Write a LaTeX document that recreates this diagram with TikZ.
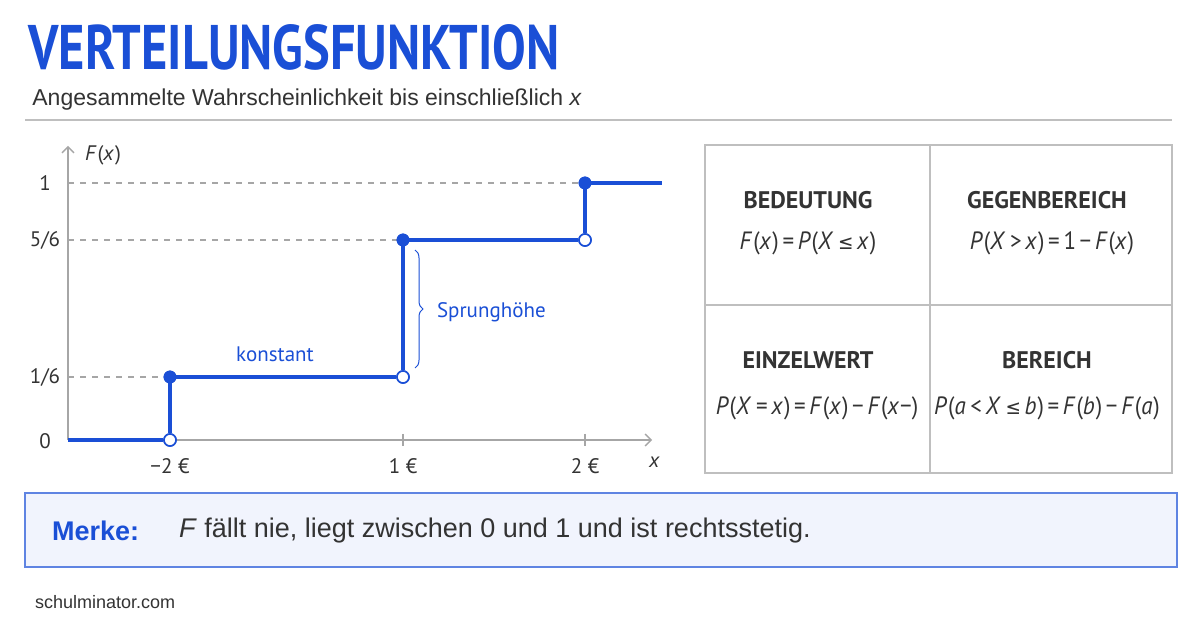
\documentclass[tikz,border=0pt]{standalone}
\usepackage{fontspec}
\setmainfont{Carlito}
\newfontfamily\titlefont{PT Sans}
\newfontfamily\subfont{Liberation Sans}
\newfontfamily\symfont{DejaVu Sans}
\usetikzlibrary{decorations.pathreplacing,arrows.meta}
\definecolor{blu}{HTML}{1A4FD6}
\definecolor{dk}{HTML}{333333}
\newcommand{\vi}[1]{\textit{#1}\kern0.5pt}
\newcommand{\eqs}{\kern2pt=\kern2pt}
\newcommand{\les}{\kern2pt{\symfont\scalebox{0.8}{≤}}\kern2pt}
\newcommand{\fmla}[1]{{\titlefont\fontsize{12.5}{14}\selectfont\scalebox{0.92}[1]{#1}}}
\begin{document}
\begin{tikzpicture}[x=0.5pt,y=-0.5pt,
  stp/.style={blu,line width=1.6pt},
  dsh/.style={gray!70,dashed,line width=0.6pt},
  fdot/.style={circle,fill=blu,draw=blu,inner sep=0pt,minimum size=6pt},
  odot/.style={circle,fill=white,draw=blu,line width=0.8pt,inner sep=0pt,minimum size=6pt},
  lab/.style={font=\titlefont\fontsize{10.5}{12}\selectfont,text=dk},
  cellh/.style={font=\titlefont\bfseries\fontsize{12}{14}\selectfont,text=dk},
  cellf/.style={text=dk}]
\useasboundingbox[fill=white] (0,0) rectangle (1200,630);
\node[anchor=west,inner sep=0,text=blu] (title) at (28,47) {\titlefont\bfseries\fontsize{31.5}{34}\selectfont\scalebox{0.8}[1]{VERTEILUNGSFUNKTION}};
\node[anchor=west,inner sep=0,text=dk] (sub) at (32,100) {\subfont\fontsize{11.5}{13}\selectfont Angesammelte Wahrscheinlichkeit bis einschließlich \textit{x}};
\draw[gray!50,line width=0.6pt] (25,120) -- (1172,120);
% axes
\coordinate (o) at (68,440);
\coordinate (ytop) at (68,146);
\coordinate (xend) at (652,440);
\draw[gray!70,line width=0.7pt,-{Straight Barb[length=3pt]}] (o) -- (ytop);
\draw[gray!70,line width=0.7pt,-{Straight Barb[length=3pt]}] (o) -- (xend);
\node[lab,anchor=west] (fx) at (78,155) {\vi{F}(\vi{x})};
\node[lab] (l1) at (45,183) {1};
\node[lab] (l56) at (45,240) {5/6};
\node[lab] (l16) at (45,377) {1/6};
\node[lab] (l0) at (45,441) {0};
\draw[dsh] (68,183) -- (585,183);
\draw[dsh] (68,240) -- (403,240);
\draw[dsh] (68,377) -- (170,377);
\draw[gray!70,line width=0.6pt] (403,434) -- (403,446) (585,434) -- (585,446);
\node[lab] (t1) at (170,466) {−2 €};
\node[lab] (t2) at (403,466) {1 €};
\node[lab] (t3) at (585,466) {2 €};
\node[lab] (xl) at (655,462) {\vi{x}};
% steps
\node[odot] (a0) at (170,440) {};
\node[fdot] (a1) at (170,377) {};
\node[odot] (b0) at (403,377) {};
\node[fdot] (b1) at (403,240) {};
\node[odot] (c0) at (585,240) {};
\node[fdot] (c1) at (585,183) {};
\coordinate (e) at (662,183);
\draw[stp] (o) -- (a0) (a0) -- (a1) (a1) -- (b0) (b0) -- (b1) (b1) -- (c0) (c0) -- (c1) (c1) -- (e);
\node[fdot] at (170,377) {};\node[fdot] at (403,240) {};\node[fdot] at (585,183) {};
\node[odot] at (170,440) {};\node[odot] at (403,377) {};\node[odot] at (585,240) {};
\node[lab,text=blu] (k) at (275,354) {konstant};
\draw[blu,line width=0.5pt,decorate,decoration={brace,amplitude=4pt}] (415,250) -- (415,368);
\node[lab,text=blu,anchor=west] (sp) at (430,312) {Sprunghöhe};
% table
\draw[gray!50,line width=0.7pt] (705,145) rectangle (1172,473);
\draw[gray!50,line width=0.7pt] (930,145) -- (930,473) (705,305) -- (1172,305);
\node[cellh] (h1) at (808,200) {BEDEUTUNG};
\node[cellf] (f1) at (808,243) {\fmla{\vi{F}(\vi{x})\eqs\vi{P}(\vi{X}\les\vi{x})}};
\node[cellh] (h2) at (1047,200) {GEGENBEREICH};
\node[cellf] (f2) at (1052,243) {\fmla{\vi{P}(\vi{X}\kern2pt>\kern2pt\vi{x})\eqs1\kern2pt−\kern2pt\vi{F}(\vi{x})}};
\node[cellh] (h3) at (808,360) {EINZELWERT};
\node[cellf] (f3) at (817,408) {\fmla{\vi{P}(\vi{X}\eqs\vi{x})\eqs\vi{F}(\vi{x})\kern2pt−\kern2pt\vi{F}(\vi{x}−)}};
\node[cellh] (h4) at (1047,360) {BEREICH};
\node[cellf] (f4) at (1047,408) {\fmla{\vi{P}(\vi{a}\kern2pt<\kern2pt\vi{X}\les\vi{b})\eqs\vi{F}(\vi{b})\kern2pt−\kern2pt\vi{F}(\vi{a})}};
% Merke
\draw[blu!70,fill=blu!6,line width=0.7pt] (25,493) rectangle (1177,567);
\node[anchor=west,text=blu] (m) at (45,531) {\subfont\bfseries\fontsize{13.5}{15}\selectfont Merke:};
\node[anchor=west,text=dk] (mt) at (172,531) {\subfont\fontsize{13.5}{15}\selectfont \textit{F} fällt nie, liegt zwischen 0 und 1 und ist rechtsstetig.};
\node[anchor=west,text=dk] (s) at (28,602) {\subfont\fontsize{9}{11}\selectfont schulminator.com};
\end{tikzpicture}
\end{document}
